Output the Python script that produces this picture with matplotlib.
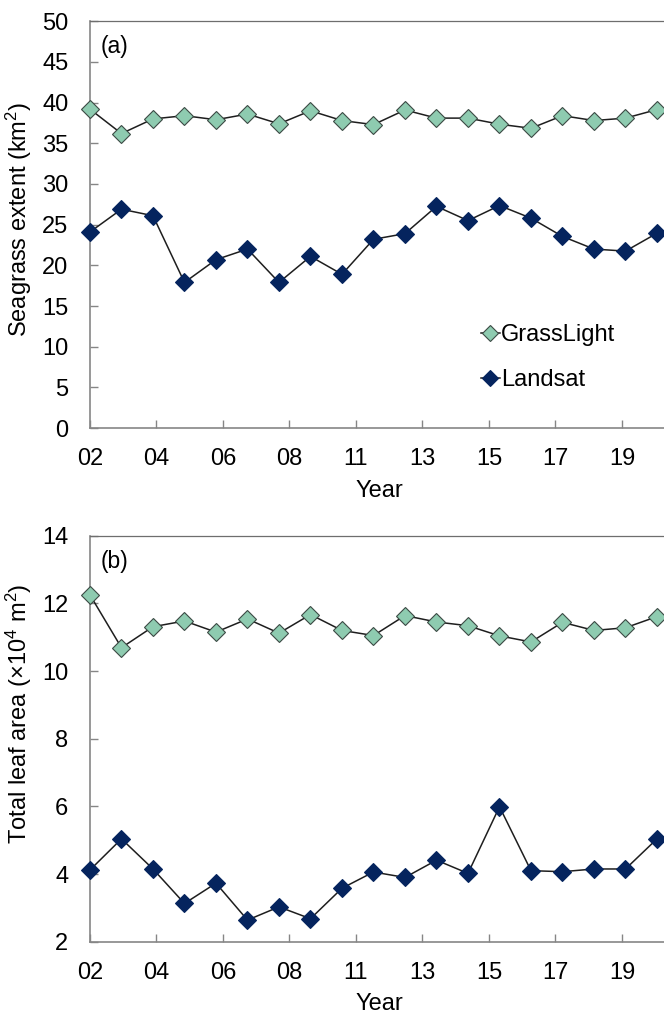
import numpy as np
import matplotlib
matplotlib.use("Agg")
import matplotlib.pyplot as plt

plt.rcParams['font.family'] = ['Liberation Sans', 'DejaVu Sans']
plt.rcParams['mathtext.fontset'] = 'custom'
plt.rcParams['mathtext.rm'] = 'Liberation Sans'
plt.rcParams['mathtext.default'] = 'regular'

# data (19 visible points, right part is cropped)
year_labels = ['02', '04', '06', '08', '11', '13', '15', '17', '19']

extent_grasslight = [39.2, 36.2, 38.0, 38.4, 37.9, 38.6, 37.4, 39.0, 37.8, 37.3,
                     39.1, 38.1, 38.1, 37.35, 36.85, 38.4, 37.8, 38.1, 39.15]
extent_landsat = [24.1, 26.9, 26.1, 17.9, 20.7, 22.0, 17.9, 21.1, 18.9, 23.2,
                  23.9, 27.25, 25.5, 27.35, 25.8, 23.55, 22.0, 21.75, 23.95]

area_grasslight = [12.25, 10.69, 11.31, 11.48, 11.15, 11.54, 11.12, 11.67, 11.2, 11.05,
                   11.64, 11.45, 11.34, 11.04, 10.86, 11.44, 11.2, 11.28, 11.61]
area_landsat = [4.12, 5.04, 4.15, 3.13, 3.73, 2.64, 3.03, 2.68, 3.58, 4.06,
                3.9, 4.41, 4.02, 5.99, 4.1, 4.07, 4.15, 4.15, 5.04]

x = np.arange(len(extent_grasslight))
n_slots = 19  # axis width in point spacings
tick_pos = np.arange(len(year_labels)) * n_slots / 9

c_light = '#8ecbb0'
c_dark = '#05245e'
axis_gray = '#868686'

fig = plt.figure(figsize=(6.64, 10.15), dpi=100)
ax1 = fig.add_axes([0.1355, 0.5783, 0.9014, 0.4007])
ax2 = fig.add_axes([0.1355, 0.0722, 0.9014, 0.4000])


def style(ax, ylim, yticks, ylabel, ylabel_y, tag):
    ax.set_xlim(0, n_slots)
    ax.set_ylim(*ylim)
    ax.set_yticks(yticks)
    ax.set_xticks(tick_pos)
    ax.set_xticklabels(year_labels)
    for s in ['left', 'bottom']:
        ax.spines[s].set_color(axis_gray)
        ax.spines[s].set_linewidth(1.2)
    ax.spines['top'].set_color('#6e6e6e')
    ax.spines['top'].set_linewidth(0.9)
    ax.spines['right'].set_visible(False)
    ax.tick_params(axis='both', direction='in', length=5.5, width=1.0,
                   color=axis_gray, labelsize=17)
    ax.tick_params(axis='y', pad=15.5)
    ax.tick_params(axis='x', pad=14.5)
    ax.set_xlabel('Year', fontsize=17)
    ax.xaxis.set_label_coords(0.483, -0.127)
    ax.set_ylabel(ylabel, fontsize=17)
    ax.yaxis.set_label_coords(-0.094, ylabel_y)
    ax.text(0.017, 0.937, tag, transform=ax.transAxes, fontsize=16.5,
            ha='left', va='center')


def draw(ax, light, dark):
    ax.plot(x, light, color='#1e1e1e', lw=1.1, marker='D', ms=9.6,
            mfc=c_light, mec='#3c4a44', mew=0.8, label='GrassLight', clip_on=False, zorder=3)
    ax.plot(x, dark, color='#1e1e1e', lw=1.1, marker='D', ms=9.6,
            mfc=c_dark, mec=c_dark, mew=0.8, label='Landsat', clip_on=False, zorder=3)


draw(ax1, extent_grasslight, extent_landsat)
style(ax1, (0, 50), np.arange(0, 51, 5), 'Seagrass extent (km$^2$)', 0.514, '(a)')
ax1.legend(loc='center left', bbox_to_anchor=(0.653, 0.173), frameon=False,
           fontsize=17, handlelength=0.8, handletextpad=0.05, labelspacing=0.95,
           markerscale=0.85, borderpad=0, borderaxespad=0)

draw(ax2, area_grasslight, area_landsat)
style(ax2, (2, 14), np.arange(2, 15, 2), 'Total leaf area (×10$^4$ m$^2$)', 0.561, '(b)')

fig.savefig('out.png', dpi=100)
